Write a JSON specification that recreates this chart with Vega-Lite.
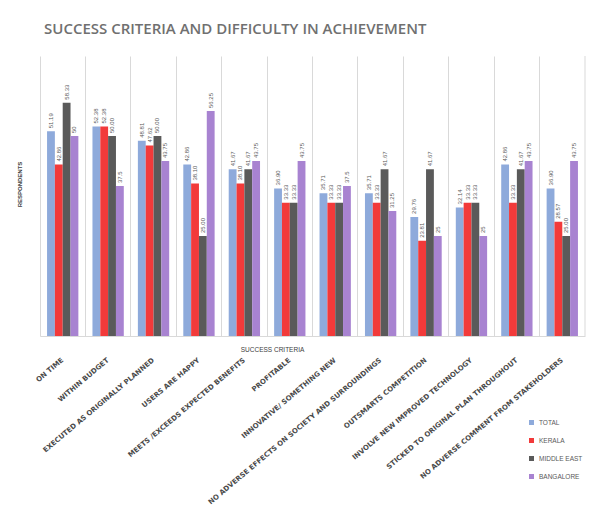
{
  "$schema": "https://vega.github.io/schema/vega-lite/v6.json",
  "width": 545,
  "height": 280,
  "autosize": "none",
  "padding": {"left": 40, "top": 56, "right": 22, "bottom": 189},
  "background": "white",
  "title": {
    "text": "SUCCESS CRITERIA AND DIFFICULTY IN ACHIEVEMENT",
    "anchor": "start",
    "frame": "group",
    "dx": 4,
    "offset": 19,
    "fontSize": 15,
    "font": "Open Sans",
    "fontWeight": 600,
    "color": "#707070"
  },
  "config": {"view": {"stroke": null}},
  "data": {
    "values": [
      {"cat": "ON TIME", "series": "TOTAL", "value": 51.19, "label": "51.19"},
      {"cat": "ON TIME", "series": "KERALA", "value": 42.86, "label": "42.86"},
      {"cat": "ON TIME", "series": "MIDDLE EAST", "value": 58.33, "label": "58.33"},
      {"cat": "ON TIME", "series": "BANGALORE", "value": 50, "label": "50"},
      {"cat": "WITHIN BUDGET", "series": "TOTAL", "value": 52.38, "label": "52.38"},
      {"cat": "WITHIN BUDGET", "series": "KERALA", "value": 52.38, "label": "52.38"},
      {"cat": "WITHIN BUDGET", "series": "MIDDLE EAST", "value": 50, "label": "50.00"},
      {"cat": "WITHIN BUDGET", "series": "BANGALORE", "value": 37.5, "label": "37.5"},
      {"cat": "EXECUTED AS ORIGINALLY PLANNED", "series": "TOTAL", "value": 48.81, "label": "48.81"},
      {"cat": "EXECUTED AS ORIGINALLY PLANNED", "series": "KERALA", "value": 47.62, "label": "47.62"},
      {"cat": "EXECUTED AS ORIGINALLY PLANNED", "series": "MIDDLE EAST", "value": 50, "label": "50.00"},
      {"cat": "EXECUTED AS ORIGINALLY PLANNED", "series": "BANGALORE", "value": 43.75, "label": "43.75"},
      {"cat": "USERS ARE HAPPY", "series": "TOTAL", "value": 42.86, "label": "42.86"},
      {"cat": "USERS ARE HAPPY", "series": "KERALA", "value": 38.1, "label": "38.10"},
      {"cat": "USERS ARE HAPPY", "series": "MIDDLE EAST", "value": 25, "label": "25.00"},
      {"cat": "USERS ARE HAPPY", "series": "BANGALORE", "value": 56.25, "label": "56.25"},
      {"cat": "MEETS /EXCEEDS EXPECTED BENEFITS", "series": "TOTAL", "value": 41.67, "label": "41.67"},
      {"cat": "MEETS /EXCEEDS EXPECTED BENEFITS", "series": "KERALA", "value": 38.1, "label": "38.10"},
      {"cat": "MEETS /EXCEEDS EXPECTED BENEFITS", "series": "MIDDLE EAST", "value": 41.67, "label": "41.67"},
      {"cat": "MEETS /EXCEEDS EXPECTED BENEFITS", "series": "BANGALORE", "value": 43.75, "label": "43.75"},
      {"cat": "PROFITABLE", "series": "TOTAL", "value": 36.9, "label": "36.90"},
      {"cat": "PROFITABLE", "series": "KERALA", "value": 33.33, "label": "33.33"},
      {"cat": "PROFITABLE", "series": "MIDDLE EAST", "value": 33.33, "label": "33.33"},
      {"cat": "PROFITABLE", "series": "BANGALORE", "value": 43.75, "label": "43.75"},
      {"cat": "INNOVATIVE/ SOMETHING NEW", "series": "TOTAL", "value": 35.71, "label": "35.71"},
      {"cat": "INNOVATIVE/ SOMETHING NEW", "series": "KERALA", "value": 33.33, "label": "33.33"},
      {"cat": "INNOVATIVE/ SOMETHING NEW", "series": "MIDDLE EAST", "value": 33.33, "label": "33.33"},
      {"cat": "INNOVATIVE/ SOMETHING NEW", "series": "BANGALORE", "value": 37.5, "label": "37.5"},
      {"cat": "NO ADVERSE EFFECTS ON SOCIETY AND SURROUNDINGS", "series": "TOTAL", "value": 35.71, "label": "35.71"},
      {"cat": "NO ADVERSE EFFECTS ON SOCIETY AND SURROUNDINGS", "series": "KERALA", "value": 33.33, "label": "33.33"},
      {"cat": "NO ADVERSE EFFECTS ON SOCIETY AND SURROUNDINGS", "series": "MIDDLE EAST", "value": 41.67, "label": "41.67"},
      {"cat": "NO ADVERSE EFFECTS ON SOCIETY AND SURROUNDINGS", "series": "BANGALORE", "value": 31.25, "label": "31.25"},
      {"cat": "OUTSMARTS COMPETITION", "series": "TOTAL", "value": 29.76, "label": "29.76"},
      {"cat": "OUTSMARTS COMPETITION", "series": "KERALA", "value": 23.81, "label": "23.81"},
      {"cat": "OUTSMARTS COMPETITION", "series": "MIDDLE EAST", "value": 41.67, "label": "41.67"},
      {"cat": "OUTSMARTS COMPETITION", "series": "BANGALORE", "value": 25, "label": "25"},
      {"cat": "INVOLVE NEW IMPROVED TECHNOLOGY", "series": "TOTAL", "value": 32.14, "label": "32.14"},
      {"cat": "INVOLVE NEW IMPROVED TECHNOLOGY", "series": "KERALA", "value": 33.33, "label": "33.33"},
      {"cat": "INVOLVE NEW IMPROVED TECHNOLOGY", "series": "MIDDLE EAST", "value": 33.33, "label": "33.33"},
      {"cat": "INVOLVE NEW IMPROVED TECHNOLOGY", "series": "BANGALORE", "value": 25, "label": "25"},
      {"cat": "STICKED TO ORIGINAL PLAN THROUGHOUT", "series": "TOTAL", "value": 42.86, "label": "42.86"},
      {"cat": "STICKED TO ORIGINAL PLAN THROUGHOUT", "series": "KERALA", "value": 33.33, "label": "33.33"},
      {"cat": "STICKED TO ORIGINAL PLAN THROUGHOUT", "series": "MIDDLE EAST", "value": 41.67, "label": "41.67"},
      {"cat": "STICKED TO ORIGINAL PLAN THROUGHOUT", "series": "BANGALORE", "value": 43.75, "label": "43.75"},
      {"cat": "NO ADVERSE COMMENT FROM STAKEHOLDERS", "series": "TOTAL", "value": 36.9, "label": "36.90"},
      {"cat": "NO ADVERSE COMMENT FROM STAKEHOLDERS", "series": "KERALA", "value": 28.57, "label": "28.57"},
      {"cat": "NO ADVERSE COMMENT FROM STAKEHOLDERS", "series": "MIDDLE EAST", "value": 25, "label": "25.00"},
      {"cat": "NO ADVERSE COMMENT FROM STAKEHOLDERS", "series": "BANGALORE", "value": 43.75, "label": "43.75"}
    ]
  },
  "encoding": {
    "x": {
      "field": "cat",
      "type": "nominal",
      "sort": null,
      "scale": {"paddingInner": 0, "paddingOuter": 0},
      "axis": {
        "bandPosition": 0,
        "grid": true,
        "gridColor": "#d9d9d9",
        "ticks": false,
        "domainColor": "#d9d9d9",
        "labelAngle": -40,
        "labelAlign": "right",
        "labelBaseline": "middle",
        "labelPadding": 23,
        "labelFont": "DejaVu Sans",
        "labelFontSize": 7,
        "labelFontWeight": "bold",
        "labelColor": "#4a4a4a",
        "labelLimit": 400,
        "title": "SUCCESS CRITERIA",
        "titleFont": "Liberation Sans",
        "titleFontSize": 6.5,
        "titleFontWeight": "normal",
        "titleColor": "#404040",
        "titleX": 232,
        "titleY": 10
      }
    },
    "y": {
      "field": "value",
      "type": "quantitative",
      "scale": {"domain": [0, 70]},
      "axis": {
        "labels": false,
        "ticks": false,
        "domain": false,
        "grid": false,
        "title": "RESPONDENTS",
        "titleFont": "Liberation Sans",
        "titleFontSize": 6,
        "titleFontWeight": "bold",
        "titleColor": "#404040",
        "titleX": -18,
        "titleY": 128
      }
    },
    "xOffset": {
      "field": "series",
      "sort": ["TOTAL", "KERALA", "MIDDLE EAST", "BANGALORE"],
      "scale": {"paddingInner": 0, "paddingOuter": 0.9}
    }
  },
  "layer": [
    {
      "mark": {"type": "bar"},
      "encoding": {
        "color": {
          "field": "series",
          "type": "nominal",
          "sort": ["TOTAL", "KERALA", "MIDDLE EAST", "BANGALORE"],
          "scale": {
            "domain": ["TOTAL", "KERALA", "MIDDLE EAST", "BANGALORE"],
            "range": ["#8eaadb", "#f23a3a", "#5a5a5a", "#a883d1"]
          },
          "legend": {
            "orient": "none",
            "legendX": 488,
            "legendY": 363,
            "title": null,
            "symbolType": "square",
            "symbolSize": 25,
            "labelFont": "Liberation Sans",
            "labelFontSize": 6.5,
            "labelColor": "#595959",
            "rowPadding": 11
          }
        }
      }
    },
    {
      "mark": {
        "type": "text",
        "angle": -90,
        "align": "left",
        "baseline": "middle",
        "dx": 3,
        "font": "Liberation Sans",
        "fontSize": 6,
        "color": "#595959"
      },
      "encoding": {"text": {"field": "label"}}
    },
    {
      "data": {"values": [{"cat": "NO ADVERSE COMMENT FROM STAKEHOLDERS"}]},
      "mark": {"type": "rule", "color": "#d9d9d9"},
      "encoding": {
        "x": {"field": "cat", "type": "nominal", "sort": null, "bandPosition": 1},
        "xOffset": null,
        "y": null
      }
    }
  ]
}
